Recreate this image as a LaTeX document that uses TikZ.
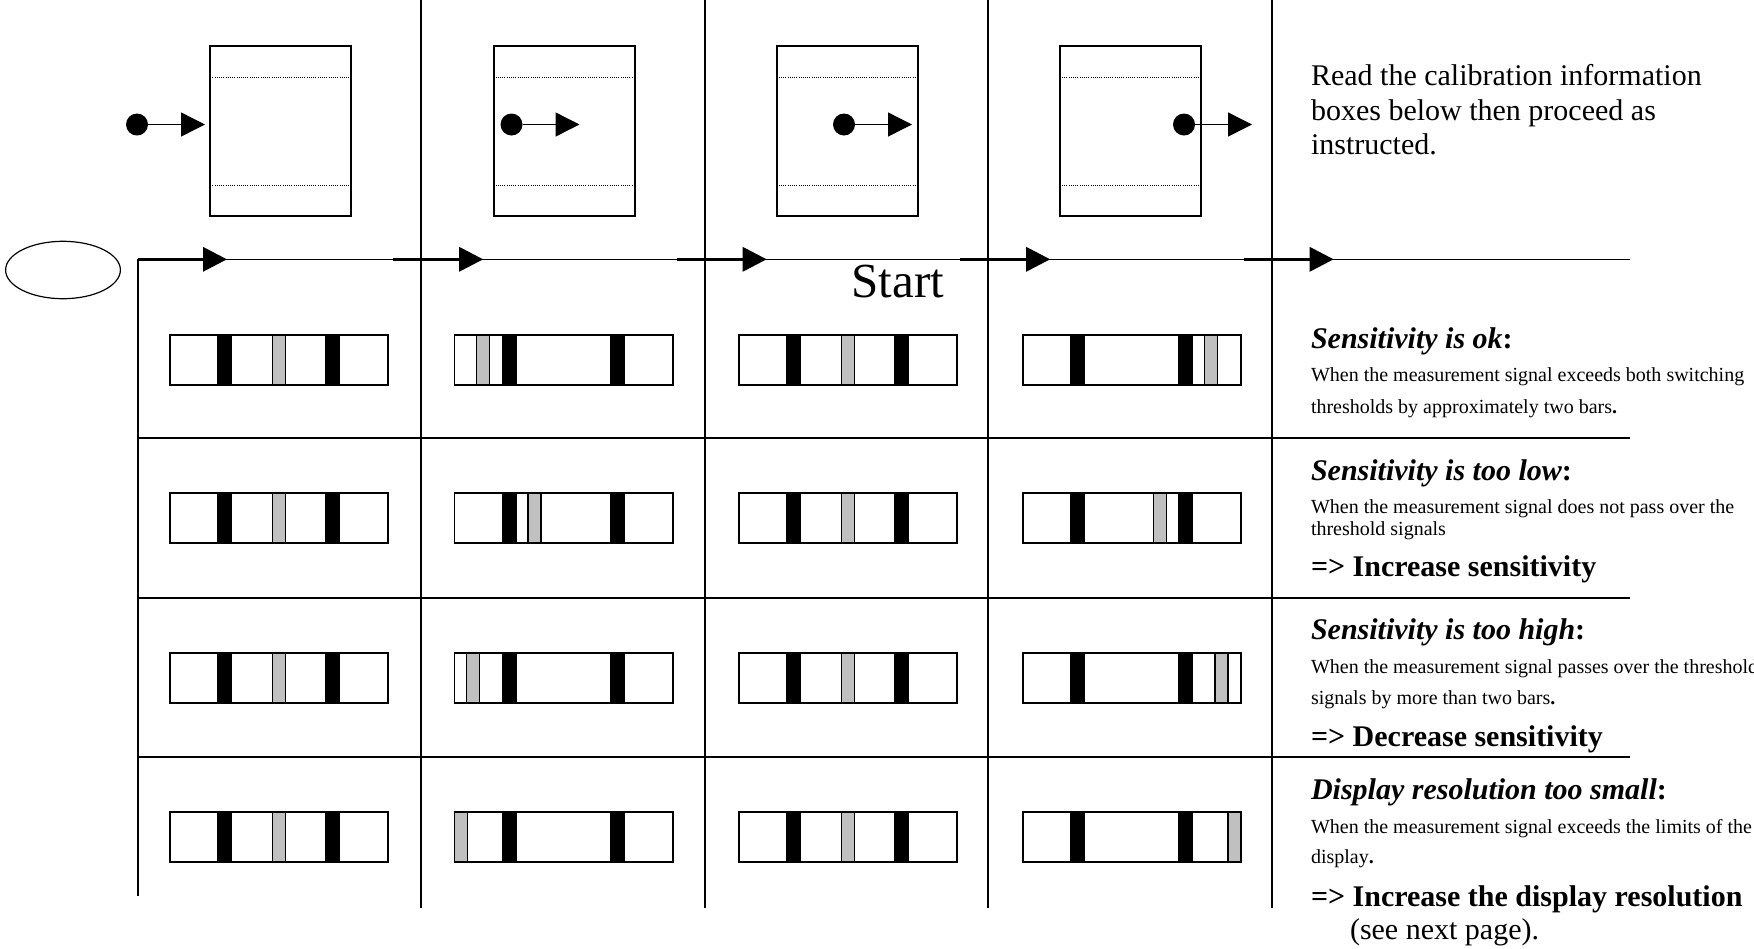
\documentclass[tikz,border=0pt]{standalone}
\usepackage{fontspec}
\setmainfont{Liberation Serif}
\usetikzlibrary{arrows.meta,shapes.geometric,calc}
\definecolor{barGray}{RGB}{192,192,192}
\tikzset{
  gridline/.style={line width=0.85pt},
  flowthin/.style={line width=0.75pt},
  flowthick/.style={line width=1.7pt,-{Triangle[length=12bp,width=12bp]}},
  topbox/.style={draw,line width=1pt,minimum width=70.5bp,minimum height=85bp,inner sep=0},
  dottedrule/.style={line width=0.5pt,dash pattern=on 0.5pt off 0.6pt},
  dotmark/.style={circle,fill=black,minimum size=11bp,inner sep=0},
  dotarrow/.style={line width=0.7pt,-{Triangle[length=12bp,width=12bp]}},
  dispbox/.style={draw,line width=1pt,minimum width=109bp,minimum height=25bp,inner sep=0},
  blackbar/.style={fill=black},
  graybar/.style={fill=barGray,draw=black,line width=0.6pt},
  oval/.style={draw,ellipse,line width=0.6pt,minimum width=57.4bp,minimum height=28.7bp,inner sep=0},
  txt/.style={anchor=base west,inner sep=0,outer sep=0},
  introtext/.style={txt,font=\fontsize{15bp}{17bp}\selectfont},
  headtext/.style={txt,font=\fontsize{15bp}{17bp}\selectfont\bfseries\itshape},
  bodytext/.style={txt,font=\fontsize{10bp}{12bp}\selectfont},
  actiontext/.style={txt,font=\fontsize{15bp}{17bp}\selectfont\bfseries},
  starttext/.style={txt,font=\fontsize{24.5bp}{28bp}\selectfont},
}
% #1 name, #2 left x, #3 centre y, #4 offset of the grey bar
\newcommand\calbar[4]{%
  \begin{scope}[shift={(#2,#3)}]
    \fill[blackbar] (48,-26) rectangle (63,26);
    \fill[blackbar] (156,-26) rectangle (171,26);
    \filldraw[graybar] (#4,-25) rectangle ({#4+13},25);
    \node[dispbox] (#1) at (110,0) {};
  \end{scope}}
\begin{document}
\begin{tikzpicture}[x=0.5bp,y=-0.5bp]
\useasboundingbox (0,0) rectangle (1754,948);

% ---- flow line and grid ----
\coordinate (corner) at (137.7,259.3);
\coordinate (flowend) at (1629.5,259.3);
\coordinate (leftbot) at (137.7,896);
\draw[flowthin] (corner) -- (flowend);
\draw[gridline] (corner) -- (leftbot);
\foreach \c/\vx in {1/421.2,2/704.7,3/988.2,4/1271.7}{
  \coordinate (vtop\c) at (\vx,0);
  \coordinate (vbot\c) at (\vx,908);
  \draw[gridline] (vtop\c) -- (vbot\c);
}
\foreach \r/\hy in {1/438.3,2/597.7,3/756.7}{
  \coordinate (hl\r) at (137.7,\hy);
  \coordinate (hr\r) at (1630,\hy);
  \draw[gridline] (hl\r) -- (hr\r);
}
% thick flow arrows
\coordinate (fe0) at (227,259.3);
\draw[flowthick] (corner) -- (fe0);
\foreach \c/\vx in {1/421.2,2/704.7,3/988.2,4/1271.7}{
  \coordinate (fs\c) at (\vx-28,259.3);
  \coordinate (fe\c) at (\vx+62,259.3);
  \draw[flowthick] (fs\c) -- (fe\c);
}

% ---- start oval ----
\node[oval] (startoval) at (63,270) {};

% ---- top boxes with dots ----
\foreach \c/\bx/\dx in {1/280.9/137,2/564.1/511.5,3/847.3/844,4/1130.5/1184}{
  \node[topbox] (box\c) at (\bx,131) {};
  \draw[dottedrule] ($(box\c.north west)+(3,32.7)$) -- ($(box\c.north east)+(-3,32.7)$);
  \draw[dottedrule] ($(box\c.north west)+(3,140)$) -- ($(box\c.north east)+(-3,140)$);
  \node[dotmark] (dot\c) at (\dx,124.5) {};
  \coordinate (tip\c) at (\dx+68,124.5);
  \draw[dotarrow] (dot\c) -- (tip\c);
}

% ---- displays ----
\calbar{d11}{169.3}{360}{103.5}
\calbar{d12}{453.5}{360}{22.6}
\calbar{d13}{737.7}{360}{103.5}
\calbar{d14}{1021.9}{360}{182.7}
\calbar{d21}{169.3}{518.3}{103.5}
\calbar{d22}{453.5}{518.3}{74.4}
\calbar{d23}{737.7}{518.3}{103.5}
\calbar{d24}{1021.9}{518.3}{131.3}
\calbar{d31}{169.3}{677.7}{103.5}
\calbar{d32}{453.5}{677.7}{12.6}
\calbar{d33}{737.7}{677.7}{103.5}
\calbar{d34}{1021.9}{677.7}{193}
\calbar{d41}{169.3}{836.5}{103.5}
\calbar{d42}{453.5}{836.5}{1}
\calbar{d43}{737.7}{836.5}{103.5}
\calbar{d44}{1021.9}{836.5}{206}

% ---- texts ----
\node[starttext] (start) at (851.4,297.7) {Start};

\node[introtext] (in1) at (1311,85) {Read the calibration information};
\node[introtext] (in2) at (1311,120) {boxes below then proceed as};
\node[introtext] (in3) at (1311,154.3) {instructed.};

\node[headtext] (h1) at (1311,348.3) {Sensitivity is ok{\upshape:}};
\node[bodytext] (b1a) at (1311,381.7) {When the measurement signal exceeds both switching};
\node[bodytext] (b1b) at (1311,413.3) {thresholds by approximately two bars\textbf{.}};

\node[headtext] (h2) at (1311,480) {Sensitivity is too low{\upshape:}};
\node[bodytext] (b2a) at (1311,513.3) {When the measurement signal does not pass over the};
\node[bodytext] (b2b) at (1311,535) {threshold signals};
\node[actiontext] (a2) at (1311,576.7) {=> Increase sensitivity};

\node[headtext] (h3) at (1311,639.3) {Sensitivity is too high{\upshape:}};
\node[bodytext] (b3a) at (1311,673.3) {When the measurement signal passes over the threshold};
\node[bodytext] (b3b) at (1311,704) {signals by more than two bars\textbf{.}};
\node[actiontext] (a3) at (1311,746.7) {=> Decrease sensitivity};

\node[headtext] (h4) at (1311,799.3) {Display resolution too small{\upshape:}};
\node[bodytext] (b4a) at (1311,833.3) {When the measurement signal exceeds the limits of the};
\node[bodytext] (b4b) at (1311,863.3) {display\textbf{.}};
\node[actiontext] (a4) at (1311,906) {=> Increase the display resolution};
\node[introtext] (a4b) at (1350,939.3) {(see next page).};
\end{tikzpicture}
\end{document}
